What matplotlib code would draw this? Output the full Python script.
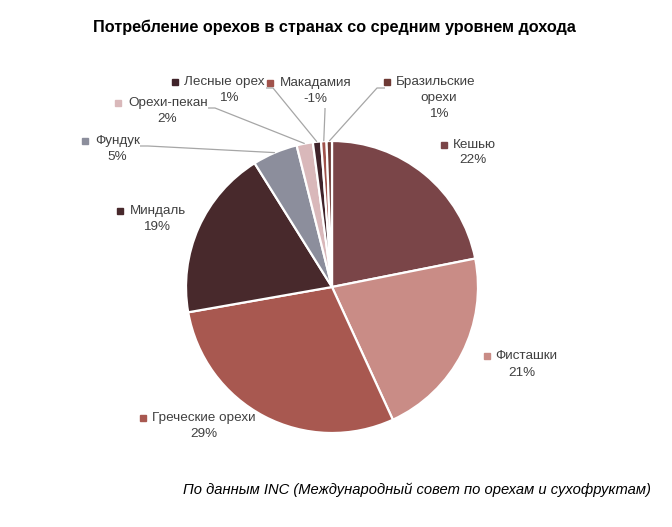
import matplotlib
matplotlib.use("Agg")
import matplotlib.pyplot as plt
import numpy as np

plt.rcParams['font.family'] = ['Liberation Sans', 'DejaVu Sans']

title = "Потребление орехов в странах со средним уровнем дохода"
source = "По данным INC (Международный совет по орехам и сухофруктам)"
categories = ["Кешью", "Фисташки", "Греческие орехи", "Миндаль", "Фундук",
              "Орехи-пекан", "Лесные орех", "Макадамия", "Бразильские\nорехи"]
values = [21.9, 21.3, 29.1, 18.9, 5.0, 1.8, 0.9, -0.6, 0.6]
colors = ["#7A4548", "#C98C86", "#A85850", "#48292C", "#8C8E9C",
          "#D9B8BA", "#40232A", "#A0524B", "#6E3A35"]

W, H = 672, 527
CX, CY, R = 332, 287, 146

fig = plt.figure(figsize=(W / 100, H / 100), dpi=100)
ax = fig.add_axes([0, 0, 1, 1])

def p2d(px, py):
    return (px - CX) / R, (CY - py) / R

wedges, _ = ax.pie(np.abs(values), colors=colors, startangle=90, counterclock=False,
                   radius=1.0, center=(0, 0),
                   wedgeprops=dict(edgecolor='white', linewidth=1.6))
ax.set_xlim(-CX / R, (W - CX) / R)
ax.set_ylim(-(H - CY) / R, CY / R)
ax.set_aspect('auto')
ax.axis('off')

# label layout (pixel positions): marker x, name left x, name y, pct center x, pct y
layout = [
    (444, 453, 145, 473, 160),
    (487, 495, 356, 522, 373),
    (143, 152, 418, 204, 434),
    (120, 130, 211, 157, 227),
    (85, 95, 141, 117, 157),
    (118, 128, 103, 167, 119),
    (175, 184, 82, 229, 98),
    (270, 280, 83, 315, 99),
    (387, 396, 82, 439, 114),
]
txtcol = "#404040"
fs = 9.7
for i, (cat, v) in enumerate(zip(categories, values)):
    mx, nx, ny, px_, py_ = layout[i]
    name = cat.split("\n")
    pct = "%.0f%%" % v
    x, y = p2d(mx, ny)
    ax.plot([x], [y], marker='s', markersize=4.2, color=colors[i], linestyle='none')
    x, y = p2d(nx, ny)
    ax.text(x, y, name[0], ha='left', va='center', fontsize=fs, color=txtcol)
    if len(name) > 1:
        x, y = p2d(px_, py_ - 16)
        ax.text(x, y, name[1], ha='center', va='center', fontsize=fs, color=txtcol)
    x, y = p2d(px_, py_)
    ax.text(x, y, pct, ha='center', va='center', fontsize=fs, color=txtcol)

# leader lines for small slices
cum = np.cumsum(np.abs(values))
tot = cum[-1]
def edge(i):
    a = (cum[i] - abs(values[i]) / 2) / tot * 2 * np.pi
    return np.sin(a), np.cos(a)

lead = {
    4: [(140, 146), (148, 146)],
    5: [(208, 108), (215, 108)],
    6: [(266, 88), (273, 88)],
    7: [(325, 108), (325, 110)],
    8: [(385, 88), (377, 88)],
}
for i, pts in lead.items():
    xs = [p2d(*p)[0] for p in pts]
    ys = [p2d(*p)[1] for p in pts]
    ex, ey = edge(i)
    xs.append(ex * 1.0)
    ys.append(ey * 1.0)
    ax.plot(xs, ys, color="#A6A6A6", linewidth=0.9, solid_capstyle='butt')

x, y = p2d(334, 27)
ax.text(x, y, title, ha='center', va='center', fontsize=11.7, fontweight='bold', color='black')
x, y = p2d(651, 490)
ax.text(x, y, source, ha='right', va='center', fontsize=10.6, style='italic', color='black')

fig.savefig("out.png", dpi=100)
